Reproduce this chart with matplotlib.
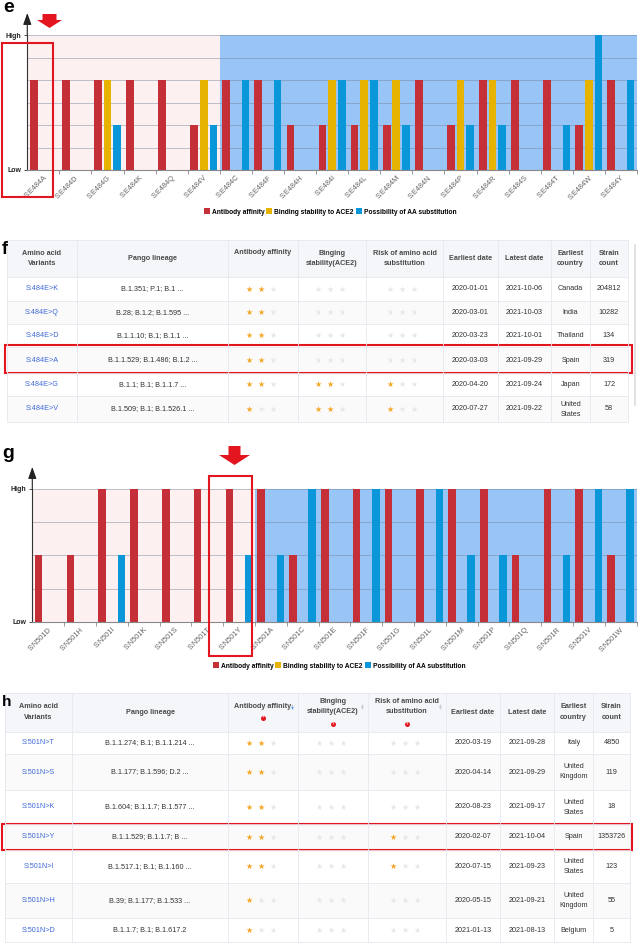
import numpy as np
import matplotlib.pyplot as plt
from matplotlib.patches import Rectangle, Polygon

plt.rcParams['font.family'] = ['Liberation Sans', 'DejaVu Sans']

W, H = 638, 944

# ---- panel e : S:E484 substitutions (0 = no bar, scale 0-3)
e_labels = ['S:E484A', 'S:E484D', 'S:E484G', 'S:E484K', 'S:E484Q', 'S:E484V',
            'S:E484C', 'S:E484F', 'S:E484H', 'S:E484I', 'S:E484L', 'S:E484M',
            'S:E484N', 'S:E484P', 'S:E484R', 'S:E484S', 'S:E484T', 'S:E484W', 'S:E484Y']
e_antibody = [2, 2, 2, 2, 2, 1, 2, 2, 1, 1, 1, 1, 2, 1, 2, 2, 2, 1, 2]
e_binding = [0, 0, 2, 0, 0, 2, 0, 0, 0, 2, 2, 2, 0, 2, 2, 0, 0, 2, 0]
e_subst = [0, 0, 1, 0, 0, 1, 2, 2, 0, 2, 2, 1, 0, 1, 1, 0, 1, 3, 2]
e_n_observed = 6

# ---- panel g : S:N501 substitutions (scale 0-2)
g_labels = ['S:N501D', 'S:N501H', 'S:N501I', 'S:N501K', 'S:N501S', 'S:N501T', 'S:N501Y',
            'S:N501A', 'S:N501C', 'S:N501E', 'S:N501F', 'S:N501G', 'S:N501L', 'S:N501M',
            'S:N501P', 'S:N501Q', 'S:N501R', 'S:N501V', 'S:N501W']
g_antibody = [1, 1, 2, 2, 2, 2, 2, 2, 1, 2, 2, 2, 2, 2, 2, 1, 2, 2, 1]
g_binding = [0] * 19
g_subst = [0, 0, 1, 0, 0, 0, 1, 1, 2, 0, 2, 0, 2, 1, 1, 0, 1, 2, 2]
g_n_observed = 7

series_names = ['Antibody affinity', 'Binding stability to ACE2', 'Possibility of AA substitution']

# ---- table f
f_header = ['Amino acid\nVariants', 'Pango lineage', 'Antibody affinity', 'Binging\nstability(ACE2)',
            'Risk of amino acid\nsubstitution', 'Earliest date', 'Latest date', 'Earliest\ncountry',
            'Strain\ncount']
f_variants = ['S:484E>K', 'S:484E>Q', 'S:484E>D', 'S:484E>A', 'S:484E>G', 'S:484E>V']
f_lineage = ['B.1.351; P.1; B.1 ...', 'B.28; B.1.2; B.1.595 ...', 'B.1.1.10; B.1; B.1.1 ...',
             'B.1.1.529; B.1.486; B.1.2 ...', 'B.1.1; B.1; B.1.1.7 ...', 'B.1.509; B.1; B.1.526.1 ...']
f_antibody = [2, 2, 2, 2, 2, 1]
f_binding = [0, 0, 0, 0, 2, 2]
f_risk = [0, 0, 0, 0, 1, 1]
f_earliest = ['2020-01-01', '2020-03-01', '2020-03-23', '2020-03-03', '2020-04-20', '2020-07-27']
f_latest = ['2021-10-06', '2021-10-03', '2021-10-01', '2021-09-29', '2021-09-24', '2021-09-22']
f_country = ['Canada', 'India', 'Thailand', 'Spain', 'Japan', 'United\nStates']
f_count = ['204812', '10282', '134', '319', '172', '58']

# ---- table h
h_header = f_header
h_variants = ['S:501N>T', 'S:501N>S', 'S:501N>K', 'S:501N>Y', 'S:501N>I', 'S:501N>H', 'S:501N>D']
h_lineage = ['B.1.1.274; B.1; B.1.1.214 ...', 'B.1.177; B.1.596; D.2 ...', 'B.1.604; B.1.1.7; B.1.577 ...',
             'B.1.1.529; B.1.1.7; B ...', 'B.1.517.1; B.1; B.1.160 ...', 'B.39; B.1.177; B.1.533 ...',
             'B.1.1.7; B.1; B.1.617.2']
h_antibody = [2, 2, 2, 2, 2, 1, 1]
h_binding = [0, 0, 0, 0, 0, 0, 0]
h_risk = [0, 0, 0, 1, 1, 0, 0]
h_earliest = ['2020-03-19', '2020-04-14', '2020-08-23', '2020-02-07', '2020-07-15', '2020-05-15', '2021-01-13']
h_latest = ['2021-09-28', '2021-09-29', '2021-09-17', '2021-10-04', '2021-09-23', '2021-09-21', '2021-08-13']
h_country = ['Italy', 'United\nKingdom', 'United\nStates', 'Spain', 'United\nStates', 'United\nKingdom', 'Belgium']
h_count = ['4850', '119', '18', '1353726', '123', '55', '5']

RED, YEL, BLU = '#c52f38', '#e6b300', '#0a97d9'
BOX = '#e3161f'
GOLD, GREY = '#f5a623', '#e4e7ec'

fig = plt.figure(figsize=(6.38, 9.44), dpi=100)
ov = fig.add_axes([0, 0, 1, 1], zorder=10)
ov.set_xlim(0, W)
ov.set_ylim(H, 0)
ov.axis('off')
ov.patch.set_alpha(0)


def px_rect(l, t, r, b):
    return [l / W, 1 - b / H, (r - l) / W, (b - t) / H]


def bar_panel(box, labels, ab, bd, ps, n_obs, ymax, legend_xy):
    ax = fig.add_axes(px_rect(*box), zorder=1)
    n = len(labels)
    x = np.arange(n) + 0.5
    ax.axvspan(0, n_obs, color='#fdf0f0', lw=0, zorder=0)
    ax.axvspan(n_obs, n, color='#99c5f6', lw=0, zorder=0)
    for yy in np.arange(0.5, ymax + 0.01, 0.5):
        ax.axhline(yy, color='#6f8196', lw=0.7, alpha=0.45, zorder=1)
    b1 = ax.bar(x - 0.3, ab, 0.24, color=RED, zorder=2, label=series_names[0])
    b2 = ax.bar(x, bd, 0.24, color=YEL, zorder=2, label=series_names[1])
    b3 = ax.bar(x + 0.3, ps, 0.24, color=BLU, zorder=2, label=series_names[2])
    ax.set_xlim(0, n)
    ax.set_ylim(0, ymax)
    ax.set_xticks(np.arange(1, n + 1))
    ax.set_xticklabels([])
    ax.set_xticks(x, minor=True)
    ax.set_xticklabels(labels, minor=True, rotation=45, ha='right', rotation_mode='anchor',
                       fontsize=5.3, color='#666')
    ax.tick_params(axis='x', which='major', length=3, color='#888', width=0.6)
    ax.tick_params(axis='x', which='minor', length=0, pad=3)
    ax.set_yticks([0, ymax])
    ax.set_yticklabels(['Low', 'High'], fontsize=5, fontweight='bold', color='#222')
    ax.tick_params(axis='y', length=2, width=0.6, pad=2, color='#333')
    ax.spines['top'].set_visible(False)
    ax.spines['right'].set_visible(False)
    ax.spines['bottom'].set_color('#888')
    ax.spines['bottom'].set_linewidth(0.8)
    ax.spines['left'].set_color('#333')
    ax.spines['left'].set_linewidth(0.8)
    fig.legend(handles=[b1, b2, b3], loc='center',
               bbox_to_anchor=(legend_xy[0] / W, 1 - legend_xy[1] / H), ncol=3, frameon=False,
               prop={'weight': 'bold', 'size': 4.8}, handlelength=0.9, handleheight=0.9,
               handletextpad=0.3, columnspacing=0.3, borderpad=0)
    # axis arrow
    ov.annotate('', xy=(box[0], box[1] - 22), xytext=(box[0], box[1]),
                arrowprops=dict(arrowstyle='-|>,head_width=0.25,head_length=0.7', color='#222',
                                lw=0.8, shrinkA=0, shrinkB=0, mutation_scale=10))
    return ax


def red_arrow(cx, top, mid, tip, hs, hh):
    pts = [(cx - hs, top), (cx + hs, top), (cx + hs, mid), (cx + hh, mid), (cx, tip),
           (cx - hh, mid), (cx - hs, mid)]
    ov.add_patch(Polygon(pts, closed=True, fc=BOX, ec='none'))


def red_box(l, t, r, b):
    ov.add_patch(Rectangle((l, t), r - l, b - t, fc='none', ec=BOX, lw=1.5))


def draw_table(cols, rows, header, header_y, variants, lineage, ab, bd, rk,
               earliest, latest, country, count, icons=False):
    left, right = cols[0], cols[-1]
    ov.add_patch(Rectangle((left, rows[0]), right - left, rows[1] - rows[0], fc='#f4f6f9', ec='none'))
    for i in range(len(variants)):
        fc = '#ffffff' if i % 2 == 0 else '#fafafa'
        ov.add_patch(Rectangle((left, rows[i + 1]), right - left, rows[i + 2] - rows[i + 1],
                               fc=fc, ec='none'))
    for y in rows:
        ov.plot([left, right], [y, y], color='#e5e8ee', lw=0.6)
    for xx in cols:
        ov.plot([xx, xx], [rows[0], rows[-1]], color='#e5e8ee', lw=0.6)
    cx = [(cols[j] + cols[j + 1]) / 2 for j in range(len(cols) - 1)]
    for j, txt in enumerate(header):
        ov.text(cx[j], header_y[j], txt, ha='center', va='center', fontsize=5.2, fontweight='bold',
                color='#4a4a4a', linespacing=1.65)
    if icons:
        for j in (2, 3, 4):
            ydot = header_y[j] + (11.5 if j == 2 else 17.5)
            ov.plot(cx[j], ydot, 'o', ms=3.6, color='#e3161f', mec='none')
            ov.text(cx[j], ydot, '?', ha='center', va='center', fontsize=2.8, color='white',
                    fontweight='bold')
            sx = cols[j + 1] - 6
            ov.plot(sx, header_y[j] - 1.5, '^', ms=1.8, color='#c0c4cc', mec='none')
            ov.plot(sx, header_y[j] + 1.5, 'v', ms=1.8, color='#3b82f6' if j == 2 else '#c0c4cc',
                    mec='none')
    for i in range(len(variants)):
        yc = (rows[i + 1] + rows[i + 2]) / 2
        ov.text(cx[0], yc, variants[i], ha='center', va='center', fontsize=5.2, color='#3d68d8')
        ov.text(cx[1], yc, lineage[i], ha='center', va='center', fontsize=5.2, color='#333')
        for j, val in zip((2, 3, 4), (ab[i], bd[i], rk[i])):
            for k in range(3):
                ov.text(cx[j] - 2 + (k - 1) * 12, yc, '\u2605', family='DejaVu Sans', fontsize=5.8,
                        color=GOLD if k < val else GREY, ha='center', va='center')
        for j, txt in zip((5, 6, 7, 8), (earliest[i], latest[i], country[i], count[i])):
            ov.text(cx[j], yc, txt, ha='center', va='center', fontsize=5.2, color='#333',
                    linespacing=1.6)


# ---- panel e
bar_panel((27.3, 35, 637, 170), e_labels, e_antibody, e_binding, e_subst, e_n_observed, 3, (330, 212))
red_arrow(49.5, 14, 20, 28, 7, 12.5)
red_box(2, 43, 53, 197)
ov.text(3, 8, 'e', fontsize=14, fontweight='bold', va='center', ha='left')

# ---- panel f
f_cols = [7, 77, 228, 298, 366, 443, 498, 551, 590, 628]
f_rows = [240, 277, 301, 324, 347, 373, 396, 422]
draw_table(f_cols, f_rows, f_header, [258.5, 258.5, 252, 258.5, 258.5, 258.5, 258.5, 258.5, 258.5],
           f_variants, f_lineage, f_antibody, f_binding, f_risk, f_earliest, f_latest, f_country, f_count)
ov.plot([635, 635], [245, 405], color='#dcdcdc', lw=1.2)
red_box(5, 345, 632, 373)
ov.text(2, 249, 'f', fontsize=13, fontweight='bold', va='center', ha='left')

# ---- panel g
bar_panel((32.3, 489, 636.5, 621.7), g_labels, g_antibody, g_binding, g_subst, g_n_observed, 2, (339, 666))
red_arrow(234.5, 446, 455, 465, 6, 15.5)
red_box(209, 476, 252, 656)
ov.text(2, 453, 'g', fontsize=14, fontweight='bold', va='center', ha='left')

# ---- panel h
h_cols = [5, 72, 228, 298, 368, 446, 500, 554, 593, 630]
h_rows = [693, 732, 754, 790, 824, 850, 883, 918, 942]
draw_table(h_cols, h_rows, h_header, [712, 712, 706, 706.5, 706.5, 712, 712, 712, 712],
           h_variants, h_lineage, h_antibody, h_binding, h_risk, h_earliest, h_latest, h_country,
           h_count, icons=True)
red_box(1.5, 824, 632, 850)
ov.text(2, 702, 'h', fontsize=11, fontweight='bold', va='center', ha='left')

fig.savefig('out.png', dpi=100)
